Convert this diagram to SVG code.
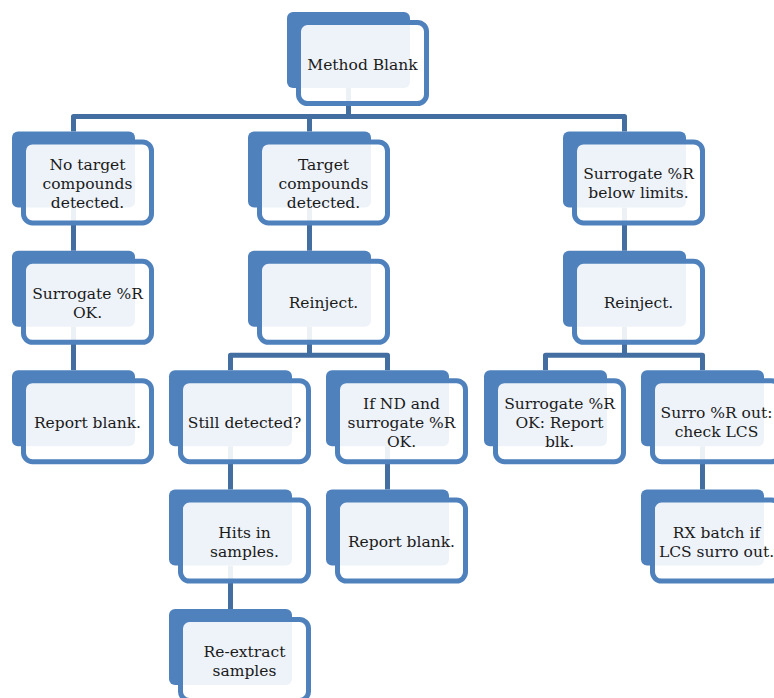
<svg xmlns="http://www.w3.org/2000/svg" width="774" height="698" viewBox="0 0 774 698">
<style>
.bk{fill:#4F81BD}
.fr{fill:#FFFFFF;fill-opacity:0.9;stroke:#4F81BD;stroke-width:5}
.cn{fill:none;stroke:#436EA1;stroke-width:5;stroke-linejoin:round}
text{font-family:"DejaVu Serif","Liberation Serif",serif;font-size:15.5px;fill:#1A1A1A;text-anchor:middle}
</style>
<defs>
<g id="box">
<rect class="bk" x="0" y="0" width="123" height="76" rx="6"/>
<rect class="fr" x="11.5" y="10.5" width="128" height="81" rx="9"/>
</g>
</defs>
<rect width="774" height="698" fill="#FFFFFF"/>
<g id="connectors">
<path class="cn" d="M348.5,88 V116.5 M73.5,131.4 V116.5 H624.5 V131.4 M309.5,116.5 V131.4"/>
<path class="cn" d="M73.5,207.4 V250.8 M309.5,207.4 V250.8 M624.5,207.4 V250.8"/>
<path class="cn" d="M73.5,326.8 V370.2"/>
<path class="cn" d="M309.5,326.8 V355.2 M230.5,370.2 V355.2 H387.5 V370.2"/>
<path class="cn" d="M624.5,326.8 V355.2 M545.5,370.2 V355.2 H702.5 V370.2"/>
<path class="cn" d="M230.5,446.2 V489.6 M387.5,446.2 V489.6 M702.5,446.2 V489.6"/>
<path class="cn" d="M230.5,565.6 V609"/>
</g>
<g id="n1" transform="translate(287,12)"><use href="#box"/><text x="75.5" y="57.5">Method Blank</text></g>
<g id="n2" transform="translate(12,131.4)"><use href="#box"/><text x="75.5" y="38.5">No target</text><text x="75.5" y="57.5">compounds</text><text x="75.5" y="76.5">detected.</text></g>
<g id="n3" transform="translate(248,131.4)"><use href="#box"/><text x="75.5" y="38.5">Target</text><text x="75.5" y="57.5">compounds</text><text x="75.5" y="76.5">detected.</text></g>
<g id="n4" transform="translate(563,131.4)"><use href="#box"/><text x="75.5" y="48">Surrogate %R</text><text x="75.5" y="67">below limits.</text></g>
<g id="n5" transform="translate(12,250.8)"><use href="#box"/><text x="75.5" y="48">Surrogate %R</text><text x="75.5" y="67">OK.</text></g>
<g id="n6" transform="translate(248,250.8)"><use href="#box"/><text x="75.5" y="57.5">Reinject.</text></g>
<g id="n7" transform="translate(563,250.8)"><use href="#box"/><text x="75.5" y="57.5">Reinject.</text></g>
<g id="n8" transform="translate(12,370.2)"><use href="#box"/><text x="75.5" y="57.5">Report blank.</text></g>
<g id="n9" transform="translate(169,370.2)"><use href="#box"/><text x="75.5" y="57.5">Still detected?</text></g>
<g id="n10" transform="translate(326,370.2)"><use href="#box"/><text x="75.5" y="38.5">If ND and</text><text x="75.5" y="57.5">surrogate %R</text><text x="75.5" y="76.5">OK.</text></g>
<g id="n11" transform="translate(484,370.2)"><use href="#box"/><text x="75.5" y="38.5">Surrogate %R</text><text x="75.5" y="57.5">OK: Report</text><text x="75.5" y="76.5">blk.</text></g>
<g id="n12" transform="translate(641,370.2)"><use href="#box"/><text x="75.5" y="48">Surro %R out:</text><text x="75.5" y="67">check LCS</text></g>
<g id="n13" transform="translate(169,489.6)"><use href="#box"/><text x="75.5" y="48">Hits in</text><text x="75.5" y="67">samples.</text></g>
<g id="n14" transform="translate(326,489.6)"><use href="#box"/><text x="75.5" y="57.5">Report blank.</text></g>
<g id="n15" transform="translate(641,489.6)"><use href="#box"/><text x="75.5" y="48">RX batch if</text><text x="75.5" y="67">LCS surro out.</text></g>
<g id="n16" transform="translate(169,609)"><use href="#box"/><text x="75.5" y="48">Re-extract</text><text x="75.5" y="67">samples</text></g>
</svg>
